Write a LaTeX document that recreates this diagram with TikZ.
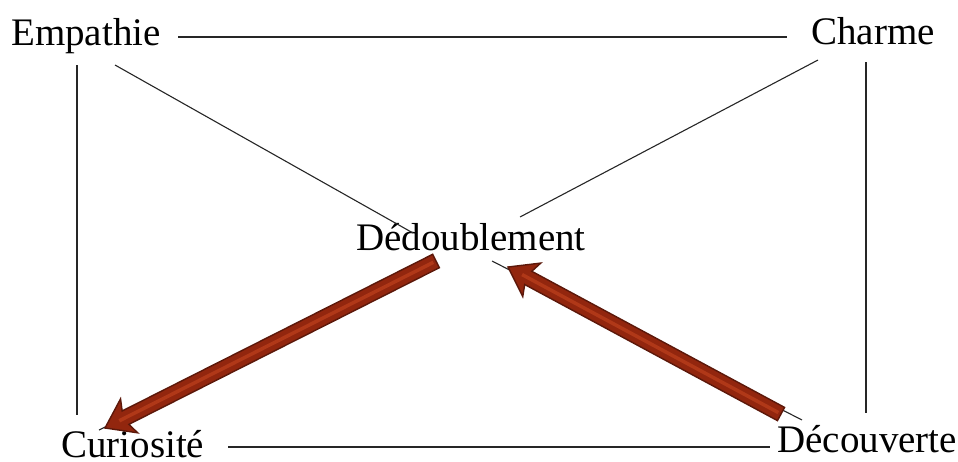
\documentclass[tikz,border=0pt]{standalone}
\usepackage{fontspec}
\setmainfont{Liberation Serif}
\usetikzlibrary{calc}
\definecolor{arrowfill}{RGB}{146,38,14}
\definecolor{arrowedge}{RGB}{92,24,10}
\definecolor{arrowcore}{RGB}{176,56,24}
\tikzset{
  label/.style={inner sep=0pt, anchor=base west, font=\fontsize{39}{41}\selectfont},
  link/.style={draw=black!85, line width=1.1pt},
  fatarrow/.style={fill=arrowfill, draw=arrowedge, line width=1.4pt, line join=miter}
}
% thick filled arrow from #1 to #2, with a lighter core stripe
\newcommand\heavyarrow[2]{%
  \coordinate (hb) at ($(#2)!27pt!(#1)$);
  \coordinate (hn) at ($(#2)!23pt!(#1)$);
  \filldraw[fatarrow]
    ($(#1)!7.5pt!90:(#2)$) -- ($(hn)!7.5pt!90:(#2)$) -- ($(hb)!19pt!90:(#2)$) --
    (#2) -- ($(hb)!19pt!-90:(#2)$) -- ($(hn)!7.5pt!-90:(#2)$) --
    ($(#1)!7.5pt!-90:(#2)$) -- cycle;
  \draw[arrowcore, line width=3.5pt] ($(#1)!3pt!(#2)$) -- ($(#2)!16pt!(#1)$);
}
\begin{document}
\begin{tikzpicture}[x=1pt,y=-1pt]
\useasboundingbox (0,0) rectangle (958,461);

% labels
\node[label] (emp) at (11,45) {Empathie};
\node[label] (cha) at (811,44) {Charme};
\node[label] (ded) at (356,250) {Dédoublement};
\node[label] (cur) at (61,457.5) {Curiosité};
\node[label] (dec) at (777,452) {Découverte};

% line end points next to the labels
\coordinate (empR) at (178,37);
\coordinate (chaL) at (787,37);
\coordinate (empD) at (115,65);
\coordinate (dedUL) at (413,233);
\coordinate (chaD) at (818,60);
\coordinate (dedUR) at (520,217);
\coordinate (empB) at (77,65);
\coordinate (curT) at (77,415);
\coordinate (chaB) at (866,62);
\coordinate (decT) at (866,413);
\coordinate (curR) at (228,447);
\coordinate (decL) at (770,447);
\coordinate (dedLL) at (437,262);
\coordinate (curUR) at (99,430);
\coordinate (dedLR) at (492,261);
\coordinate (decUL) at (802,420);

% frame and diagonals
\draw[link] (empR) -- (chaL);
\draw[link] (empD) -- (dedUL);
\draw[link] (chaD) -- (dedUR);
\draw[link] (empB) -- (curT);
\draw[link] (chaB) -- (decT);
\draw[link] (curR) -- (decL);
\draw[link] (dedLL) -- (curUR);
\draw[link] (decUL) -- (dedLR);

% heavy arrows
\coordinate (a1s) at (436,261);
\coordinate (a1t) at (105,428);
\coordinate (a2s) at (781,414);
\coordinate (a2t) at (508,267);
\heavyarrow{a1s}{a1t}
\heavyarrow{a2s}{a2t}
\end{tikzpicture}
\end{document}
